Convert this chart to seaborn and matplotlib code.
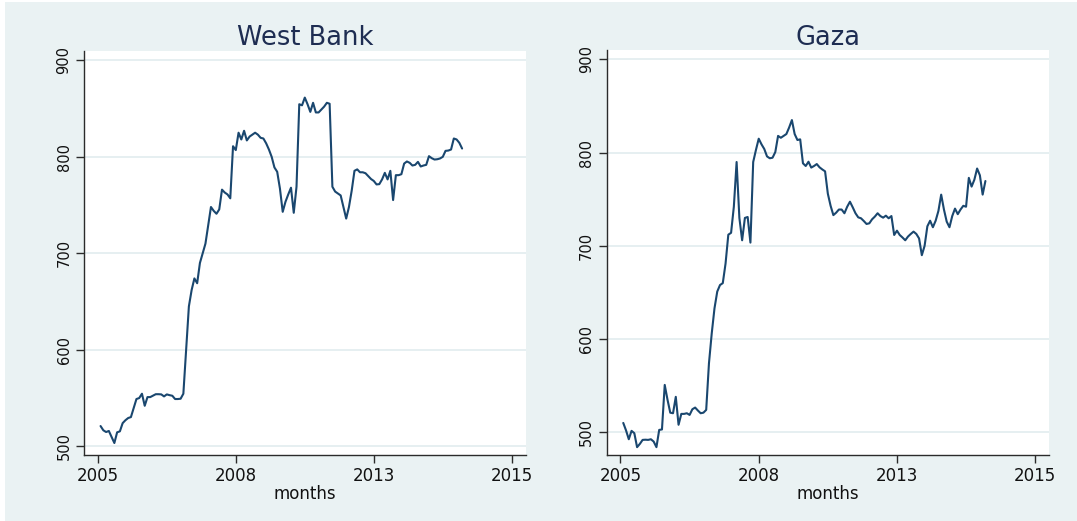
import numpy as np
import pandas as pd
import matplotlib
matplotlib.use("Agg")
import matplotlib.pyplot as plt
import seaborn as sns

# monthly series (first value = month 1)
west_bank = [521, 516.6, 514.8, 515.9, 509.7, 503.4, 514.5, 515.5, 524, 527,
             529.3, 530.3, 539.7, 549, 550, 554.5, 542, 551, 551, 552.5,
             554, 554, 553.8, 551.7, 553.8, 553, 552.4, 549, 549, 549.3,
             554.5, 600, 645, 662, 674, 669, 690, 700, 710, 729,
             748, 744, 741, 745.5, 766, 763, 761, 757, 811, 807,
             825, 818, 827, 817, 821, 823, 825, 823, 819.7, 819,
             814, 807.6, 800, 789, 784.5, 767, 743, 753.4, 761, 768,
             742, 769, 854.5, 853.4, 861.4, 854.5, 846.6, 856, 846, 846,
             849, 852, 856, 855, 769, 764, 762, 760, 748, 736,
             748, 765, 785.5, 787, 784, 784, 783, 780, 777, 775,
             771.4, 771.7, 776.6, 783.4, 776.6, 785.5, 755.2, 781, 781, 782,
             793, 795.2, 793.8, 791, 791.7, 794.8, 790, 791, 791.7, 800.7,
             798.6, 797.2, 797.5, 798.3, 800, 806.2, 806.5, 807.6, 819, 818,
             814.5, 808.6]

gaza = [510, 502, 492.5, 501.5, 499, 484, 487.5, 491.8, 492, 491.8,
        492.5, 490, 484, 502.5, 503, 550.8, 535, 521, 520.4, 538,
        508, 519.7, 519.7, 520.4, 518.6, 524.7, 526.5, 523.3, 520.4, 521,
        524, 574, 606, 633, 651, 658, 660, 681, 712, 714,
        742, 790, 730, 706, 730, 731, 703.5, 790, 803, 815,
        809, 804, 796, 794, 794.6, 800.7, 818, 816, 818, 820,
        827, 835, 820, 813.6, 814.3, 788.6, 785.7, 790.3, 784, 785.7,
        787.8, 784.3, 782, 780, 756, 743, 733, 735.6, 739, 739,
        735, 742, 747.4, 741.4, 735, 730.6, 729.6, 726.7, 723.5, 724.2,
        728.5, 731.4, 735, 732, 730.3, 732.4, 729.6, 732, 711.7, 716.3,
        711.7, 709, 706, 710, 712.8, 715.3, 712.8, 708, 690, 700,
        721, 727, 720, 727, 737.5, 755, 739, 726, 720, 732,
        740, 734, 739, 743, 742, 773, 763.6, 771, 783, 775.7,
        755, 769.6]

x_ticks = [0, 50, 100, 150]
x_labels = ["2005", "2008", "2013", "2015"]
y_ticks = [500, 600, 700, 800, 900]

BG = "#eaf2f3"
NAVY = "#1a476f"
TITLE = "#1e2d52"

sns.set_theme(style="white")
plt.rcParams["font.family"] = ["DejaVu Sans"]

fig = plt.figure(figsize=(10.77, 5.21), dpi=100, facecolor="white")
fig.patches.append(plt.Rectangle((0.005, 0), 0.995, 0.996, transform=fig.transFigure,
                                 facecolor=BG, edgecolor="none", zorder=-10))


def panel(rect, values, title, ylim):
    ax = fig.add_axes(rect)
    df = pd.DataFrame({"months": np.arange(1, len(values) + 1), "value": values})
    sns.lineplot(data=df, x="months", y="value", ax=ax, color=NAVY, linewidth=1.5)
    ax.set_facecolor("white")
    ax.set_xlim(-5, 155)
    ax.set_ylim(*ylim)
    ax.set_xticks(x_ticks)
    ax.set_xticklabels(x_labels)
    ax.set_yticks(y_ticks)
    ax.yaxis.grid(True, color="#e4eef0", linewidth=1.3)
    ax.set_axisbelow(True)
    for s in ["top", "right"]:
        ax.spines[s].set_visible(False)
    for s in ["left", "bottom"]:
        ax.spines[s].set_color("#2b2b2b")
        ax.spines[s].set_linewidth(1.0)
    ax.tick_params(axis="both", direction="out", length=6, width=1, color="#2b2b2b",
                   bottom=True, left=True)
    ax.tick_params(axis="x", labelsize=12, pad=3, labelcolor="#111111")
    ax.tick_params(axis="y", labelsize=10.5, pad=3, labelrotation=90, labelcolor="#111111")
    for lab in ax.get_yticklabels():
        lab.set_va("center")
    ax.set_xlabel("months", fontsize=12, labelpad=0, color="#111111")
    ax.set_ylabel("")
    ax.set_title(title, fontsize=18.5, color=TITLE, pad=4)
    return ax


panel([0.078, 0.1267, 0.410, 0.776], west_bank, "West Bank", (491, 910))
panel([0.5633, 0.1267, 0.4107, 0.777], gaza, "Gaza", (475.6, 910))

fig.savefig("out.png", dpi=100, facecolor=fig.get_facecolor())
